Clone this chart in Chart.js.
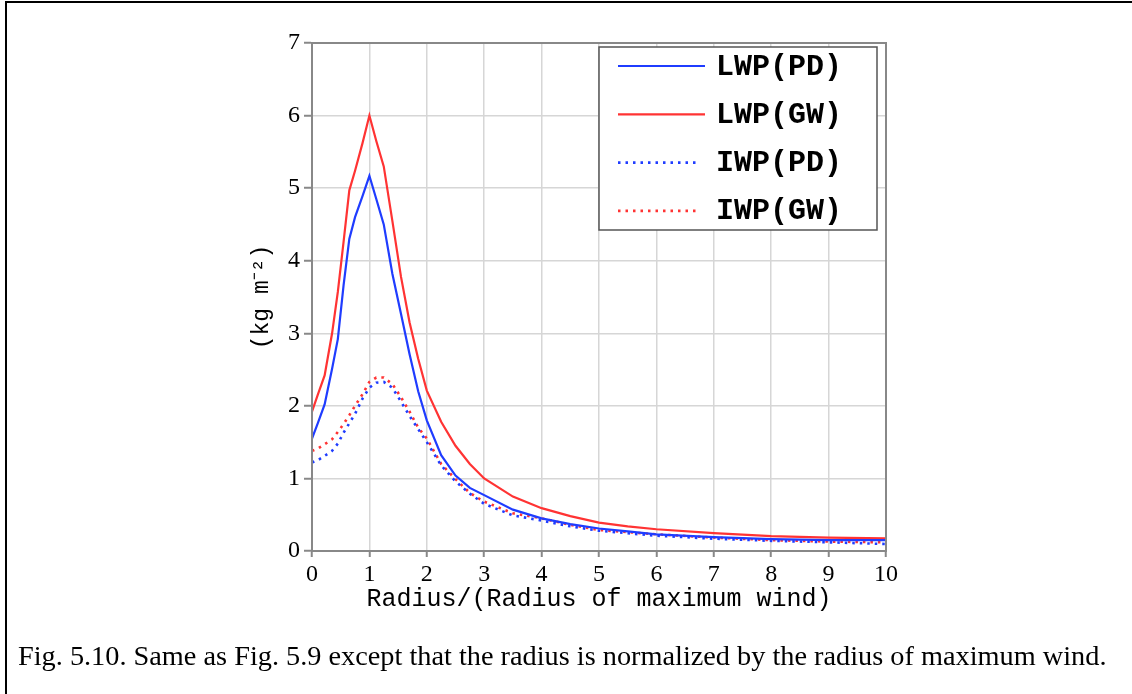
<!DOCTYPE html>
<html>
<head>
<meta charset="utf-8">
<script src="https://cdn.jsdelivr.net/npm/chart.js@4.4.0/dist/chart.umd.min.js"></script>
<style>
    body{margin:0;background:#fff;}
    #wrap{position:relative;width:1132px;height:694px;overflow:hidden;background:#fff;}
    #frame{position:absolute;left:5px;top:1px;width:1200px;height:800px;border-left:2px solid #000;border-top:2px solid #000;}
    #chartbox{position:absolute;left:0;top:0;width:1132px;height:694px;}
    #caption{position:absolute;left:18px;top:640px;font-family:"Liberation Serif";font-size:28.3px;white-space:nowrap;color:#000;}
</style>
</head>
<body>
<div id="wrap">
    <div id="frame"></div>
    <div id="chartbox"><canvas id="myChart" width="1132" height="694"></canvas></div>
    <div id="caption">Fig. 5.10. Same as Fig. 5.9 except that the radius is normalized by the radius of maximum wind.</div>
</div>
<script>
// radius normalized by radius of maximum wind
var radius = [0, 0.1, 0.22, 0.35, 0.45, 0.55, 0.65, 0.75, 0.88, 1.0, 1.12, 1.25, 1.4, 1.55, 1.7, 1.85, 2.0, 2.25, 2.5, 2.75, 3.0, 3.5, 4.0, 4.5, 5.0, 5.5, 6.0, 7.0, 8.0, 9.0, 10.0];

var lwp_pd = [1.55, 1.76, 2.02, 2.51, 2.92, 3.66, 4.30, 4.60, 4.89, 5.17, 4.85, 4.50, 3.82, 3.27, 2.71, 2.20, 1.80, 1.32, 1.04, 0.87, 0.77, 0.57, 0.45, 0.37, 0.31, 0.27, 0.23, 0.19, 0.165, 0.15, 0.15];
var lwp_gw = [1.92, 2.15, 2.42, 3.00, 3.57, 4.26, 4.97, 5.24, 5.62, 6.00, 5.65, 5.30, 4.55, 3.78, 3.15, 2.65, 2.21, 1.78, 1.45, 1.20, 1.00, 0.75, 0.59, 0.48, 0.39, 0.34, 0.30, 0.245, 0.205, 0.183, 0.175];
var iwp_pd = [1.22, 1.25, 1.31, 1.38, 1.48, 1.63, 1.76, 1.89, 2.10, 2.25, 2.32, 2.33, 2.25, 2.06, 1.86, 1.68, 1.50, 1.18, 0.96, 0.79, 0.65, 0.49, 0.42, 0.34, 0.28, 0.245, 0.21, 0.17, 0.14, 0.12, 0.096];
var iwp_gw = [1.38, 1.41, 1.47, 1.54, 1.64, 1.75, 1.87, 2.00, 2.16, 2.33, 2.39, 2.39, 2.30, 2.12, 1.92, 1.70, 1.55, 1.20, 0.99, 0.80, 0.68, 0.52, 0.45, 0.36, 0.29, 0.26, 0.23, 0.185, 0.15, 0.13, 0.12];

var series_names = ["LWP(PD)", "LWP(GW)", "IWP(PD)", "IWP(GW)"];
var x_title = "Radius/(Radius of maximum wind)";
var y_title = "(kg m\u207B\u00B2)";

var blue = "#1f3cff";
var red = "#ff3333";

function toPoints(ys){
    var pts = [];
    for(let i=0; i<radius.length; i++){
        pts.push({x: radius[i], y: ys[i]});
    }
    return pts;
}

// box round the plot area
var framePlugin = {
    id: "frame",
    afterDatasetsDraw: function(chart){
        var ctx = chart.ctx, a = chart.chartArea;
        ctx.save();
        ctx.strokeStyle = "#888";
        ctx.lineWidth = 2;
        ctx.strokeRect(a.left, a.top, a.right - a.left, a.bottom - a.top);
        ctx.restore();
    }
};

// legend inside the top right corner
var legendPlugin = {
    id: "insideLegend",
    afterDraw: function(chart){
        var ctx = chart.ctx, a = chart.chartArea;
        var right = a.right - 9, top = a.top + 4;
        var w = 278, h = 183;
        var left = right - w;
        ctx.save();
        ctx.fillStyle = "#fff";
        ctx.fillRect(left, top, w, h);
        ctx.strokeStyle = "#555";
        ctx.lineWidth = 1.5;
        ctx.strokeRect(left, top, w, h);
        ctx.font = "bold 30px 'Liberation Mono'";
        ctx.textBaseline = "middle";
        ctx.fillStyle = "#000";
        chart.data.datasets.forEach(function(ds, i){
            var y = top + 19 + i * 48.3;
            ctx.strokeStyle = ds.borderColor;
            ctx.lineWidth = ds.borderWidth;
            ctx.setLineDash(ds.borderDash || []);
            ctx.beginPath();
            ctx.moveTo(left + 19, y);
            ctx.lineTo(left + (ds.borderDash ? 99 : 106), y);
            ctx.stroke();
            ctx.setLineDash([]);
            ctx.fillText(ds.label, left + 117, y + 1);
        });
        ctx.restore();
    }
};

var graph = new Chart("myChart", {
    type: "line",
    data: {
        datasets: [
            {label: series_names[0], data: toPoints(lwp_pd), borderColor: blue, borderWidth: 2.2},
            {label: series_names[1], data: toPoints(lwp_gw), borderColor: red, borderWidth: 2.2},
            {label: series_names[2], data: toPoints(iwp_pd), borderColor: blue, borderWidth: 2.6, borderDash: [2.5, 5]},
            {label: series_names[3], data: toPoints(iwp_gw), borderColor: red, borderWidth: 2.6, borderDash: [2.5, 5]}
        ]
    },
    options: {
        responsive: false,
        animation: false,
        layout: {padding: {left: 230, top: 43, right: 246, bottom: 0}},
        elements: {point: {radius: 0}, line: {tension: 0}},
        plugins: {legend: {display: false}, tooltip: {enabled: false}},
        scales: {
            x: {
                type: "linear", min: 0, max: 10,
                ticks: {stepSize: 1, color: "#000", padding: 3, maxRotation: 0, font: {family: "'Liberation Serif'", size: 24}},
                grid: {color: "#d6d6d6", lineWidth: 1.5, tickLength: 6, tickColor: "#888", tickWidth: 2},
                border: {color: "#888", width: 2},
                title: {display: true, text: x_title, color: "#000", padding: {top: 0, bottom: 80}, font: {family: "'Liberation Mono'", size: 25}},
                afterFit: function(scale){ scale.height = 143; }
            },
            y: {
                min: 0, max: 7,
                ticks: {stepSize: 1, color: "#000", padding: 4, font: {family: "'Liberation Serif'", size: 24}},
                grid: {color: "#d6d6d6", lineWidth: 1.5, tickLength: 8, tickColor: "#888", tickWidth: 2},
                border: {color: "#888", width: 2},
                title: {display: true, text: y_title, color: "#000", padding: {top: 18, bottom: 0}, font: {family: "'Liberation Mono'", size: 23}},
                afterFit: function(scale){ scale.width = 82; }
            }
        }
    },
    plugins: [framePlugin, legendPlugin]
});
</script>
</body>
</html>
